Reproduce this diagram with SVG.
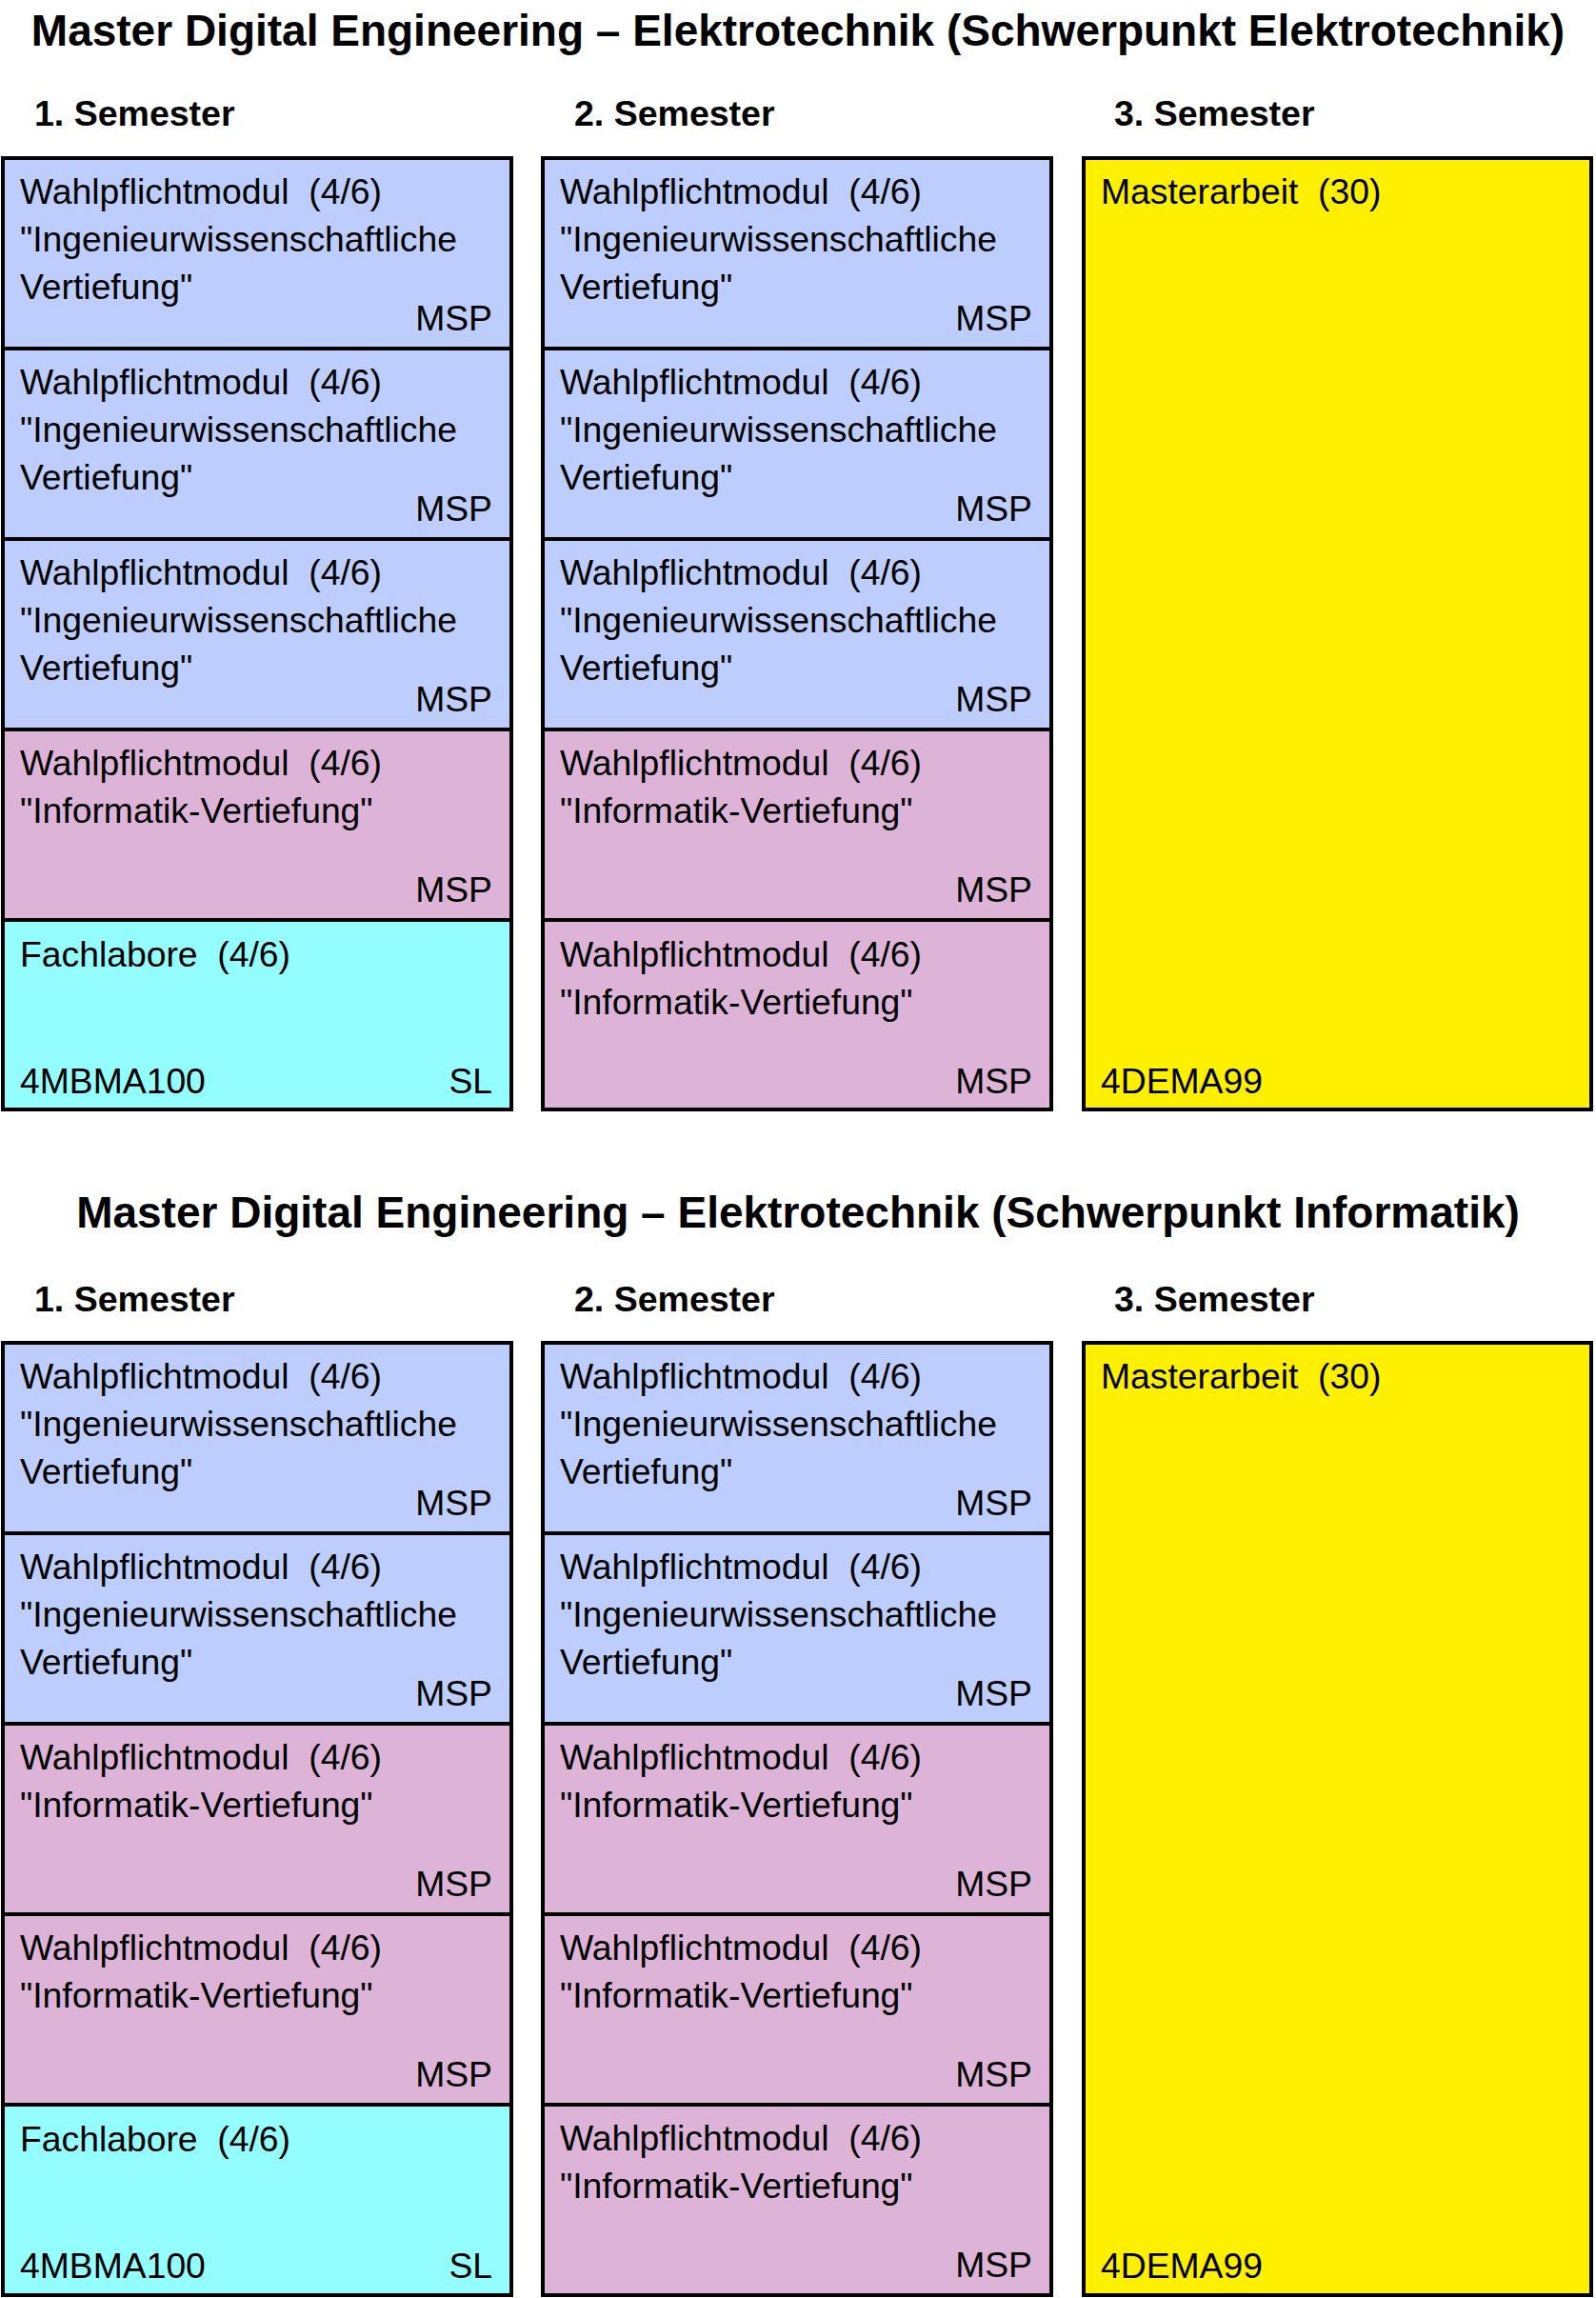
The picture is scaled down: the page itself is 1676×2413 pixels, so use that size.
<svg xmlns="http://www.w3.org/2000/svg" width="1676" height="2413" viewBox="0 0 1676 2413">
<style>
text{font-family:"Liberation Sans",Arial,Helvetica,sans-serif;fill:#000}
.title{font-size:46px;font-weight:bold;text-anchor:middle}
.sem{font-size:37.5px;font-weight:bold}
.t{font-size:37.3px}
.r{font-size:37.3px;text-anchor:end}
.ing,.inf,.lab,.ma{stroke:#000;stroke-width:4}
.ing{fill:#BDCEFE}
.inf{fill:#DDB4D8}
.lab{fill:#94FDFF}
.ma{fill:#FFF000}
</style>
<rect x="0" y="0" width="1676" height="2413" fill="#fff"/>

<!-- Section 1 -->
<g id="section1-heading">
<text class="title" x="838" y="48">Master Digital Engineering – Elektrotechnik (Schwerpunkt Elektrotechnik)</text>
<text class="sem" x="36" y="132">1. Semester</text>
<text class="sem" x="603" y="132">2. Semester</text>
<text class="sem" x="1170" y="132">3. Semester</text>
</g>

<g id="s1-c1-m1">
<rect class="ing" x="3" y="166" width="534" height="200"/>
<text class="t" x="21" y="214">Wahlpflichtmodul&#160; (4/6)</text>
<text class="t" x="21" y="264">"Ingenieurwissenschaftliche</text>
<text class="t" x="21" y="314">Vertiefung"</text>
<text class="r" x="517" y="347">MSP</text>
</g>
<g id="s1-c1-m2">
<rect class="ing" x="3" y="366" width="534" height="200"/>
<text class="t" x="21" y="414">Wahlpflichtmodul&#160; (4/6)</text>
<text class="t" x="21" y="464">"Ingenieurwissenschaftliche</text>
<text class="t" x="21" y="514">Vertiefung"</text>
<text class="r" x="517" y="547">MSP</text>
</g>
<g id="s1-c1-m3">
<rect class="ing" x="3" y="566" width="534" height="200"/>
<text class="t" x="21" y="614">Wahlpflichtmodul&#160; (4/6)</text>
<text class="t" x="21" y="664">"Ingenieurwissenschaftliche</text>
<text class="t" x="21" y="714">Vertiefung"</text>
<text class="r" x="517" y="747">MSP</text>
</g>
<g id="s1-c1-m4">
<rect class="inf" x="3" y="766" width="534" height="200"/>
<text class="t" x="21" y="814">Wahlpflichtmodul&#160; (4/6)</text>
<text class="t" x="21" y="864">"Informatik-Vertiefung"</text>
<text class="r" x="517" y="947">MSP</text>
</g>
<g id="s1-c1-lab">
<rect class="lab" x="3" y="966" width="534" height="199"/>
<text class="t" x="21" y="1015">Fachlabore&#160; (4/6)</text>
<text class="t" x="21" y="1148">4MBMA100</text>
<text class="r" x="517" y="1148">SL</text>
</g>

<g id="s1-c2-m1">
<rect class="ing" x="570" y="166" width="534" height="200"/>
<text class="t" x="588" y="214">Wahlpflichtmodul&#160; (4/6)</text>
<text class="t" x="588" y="264">"Ingenieurwissenschaftliche</text>
<text class="t" x="588" y="314">Vertiefung"</text>
<text class="r" x="1084" y="347">MSP</text>
</g>
<g id="s1-c2-m2">
<rect class="ing" x="570" y="366" width="534" height="200"/>
<text class="t" x="588" y="414">Wahlpflichtmodul&#160; (4/6)</text>
<text class="t" x="588" y="464">"Ingenieurwissenschaftliche</text>
<text class="t" x="588" y="514">Vertiefung"</text>
<text class="r" x="1084" y="547">MSP</text>
</g>
<g id="s1-c2-m3">
<rect class="ing" x="570" y="566" width="534" height="200"/>
<text class="t" x="588" y="614">Wahlpflichtmodul&#160; (4/6)</text>
<text class="t" x="588" y="664">"Ingenieurwissenschaftliche</text>
<text class="t" x="588" y="714">Vertiefung"</text>
<text class="r" x="1084" y="747">MSP</text>
</g>
<g id="s1-c2-m4">
<rect class="inf" x="570" y="766" width="534" height="200"/>
<text class="t" x="588" y="814">Wahlpflichtmodul&#160; (4/6)</text>
<text class="t" x="588" y="864">"Informatik-Vertiefung"</text>
<text class="r" x="1084" y="947">MSP</text>
</g>
<g id="s1-c2-m5">
<rect class="inf" x="570" y="966" width="534" height="199"/>
<text class="t" x="588" y="1015">Wahlpflichtmodul&#160; (4/6)</text>
<text class="t" x="588" y="1065">"Informatik-Vertiefung"</text>
<text class="r" x="1084" y="1148">MSP</text>
</g>

<g id="s1-c3-ma">
<rect class="ma" x="1138" y="166" width="533" height="999"/>
<text class="t" x="1156" y="214">Masterarbeit&#160; (30)</text>
<text class="t" x="1156" y="1148">4DEMA99</text>
</g>

<!-- Section 2 -->
<g id="section2-heading">
<text class="title" x="838" y="1289">Master Digital Engineering – Elektrotechnik (Schwerpunkt Informatik)</text>
<text class="sem" x="36" y="1377">1. Semester</text>
<text class="sem" x="603" y="1377">2. Semester</text>
<text class="sem" x="1170" y="1377">3. Semester</text>
</g>

<g id="s2-c1-m1">
<rect class="ing" x="3" y="1410" width="534" height="200"/>
<text class="t" x="21" y="1458">Wahlpflichtmodul&#160; (4/6)</text>
<text class="t" x="21" y="1508">"Ingenieurwissenschaftliche</text>
<text class="t" x="21" y="1558">Vertiefung"</text>
<text class="r" x="517" y="1591">MSP</text>
</g>
<g id="s2-c1-m2">
<rect class="ing" x="3" y="1610" width="534" height="200"/>
<text class="t" x="21" y="1658">Wahlpflichtmodul&#160; (4/6)</text>
<text class="t" x="21" y="1708">"Ingenieurwissenschaftliche</text>
<text class="t" x="21" y="1758">Vertiefung"</text>
<text class="r" x="517" y="1791">MSP</text>
</g>
<g id="s2-c1-m3">
<rect class="inf" x="3" y="1810" width="534" height="200"/>
<text class="t" x="21" y="1858">Wahlpflichtmodul&#160; (4/6)</text>
<text class="t" x="21" y="1908">"Informatik-Vertiefung"</text>
<text class="r" x="517" y="1991">MSP</text>
</g>
<g id="s2-c1-m4">
<rect class="inf" x="3" y="2010" width="534" height="200"/>
<text class="t" x="21" y="2058">Wahlpflichtmodul&#160; (4/6)</text>
<text class="t" x="21" y="2108">"Informatik-Vertiefung"</text>
<text class="r" x="517" y="2191">MSP</text>
</g>
<g id="s2-c1-lab">
<rect class="lab" x="3" y="2210" width="534" height="200"/>
<text class="t" x="21" y="2259">Fachlabore&#160; (4/6)</text>
<text class="t" x="21" y="2392">4MBMA100</text>
<text class="r" x="517" y="2392">SL</text>
</g>

<g id="s2-c2-m1">
<rect class="ing" x="570" y="1410" width="534" height="200"/>
<text class="t" x="588" y="1458">Wahlpflichtmodul&#160; (4/6)</text>
<text class="t" x="588" y="1508">"Ingenieurwissenschaftliche</text>
<text class="t" x="588" y="1558">Vertiefung"</text>
<text class="r" x="1084" y="1591">MSP</text>
</g>
<g id="s2-c2-m2">
<rect class="ing" x="570" y="1610" width="534" height="200"/>
<text class="t" x="588" y="1658">Wahlpflichtmodul&#160; (4/6)</text>
<text class="t" x="588" y="1708">"Ingenieurwissenschaftliche</text>
<text class="t" x="588" y="1758">Vertiefung"</text>
<text class="r" x="1084" y="1791">MSP</text>
</g>
<g id="s2-c2-m3">
<rect class="inf" x="570" y="1810" width="534" height="200"/>
<text class="t" x="588" y="1858">Wahlpflichtmodul&#160; (4/6)</text>
<text class="t" x="588" y="1908">"Informatik-Vertiefung"</text>
<text class="r" x="1084" y="1991">MSP</text>
</g>
<g id="s2-c2-m4">
<rect class="inf" x="570" y="2010" width="534" height="200"/>
<text class="t" x="588" y="2058">Wahlpflichtmodul&#160; (4/6)</text>
<text class="t" x="588" y="2108">"Informatik-Vertiefung"</text>
<text class="r" x="1084" y="2191">MSP</text>
</g>
<g id="s2-c2-m5">
<rect class="inf" x="570" y="2210" width="534" height="200"/>
<text class="t" x="588" y="2258">Wahlpflichtmodul&#160; (4/6)</text>
<text class="t" x="588" y="2308">"Informatik-Vertiefung"</text>
<text class="r" x="1084" y="2391">MSP</text>
</g>

<g id="s2-c3-ma">
<rect class="ma" x="1138" y="1410" width="533" height="1000"/>
<text class="t" x="1156" y="1458">Masterarbeit&#160; (30)</text>
<text class="t" x="1156" y="2392">4DEMA99</text>
</g>
</svg>
